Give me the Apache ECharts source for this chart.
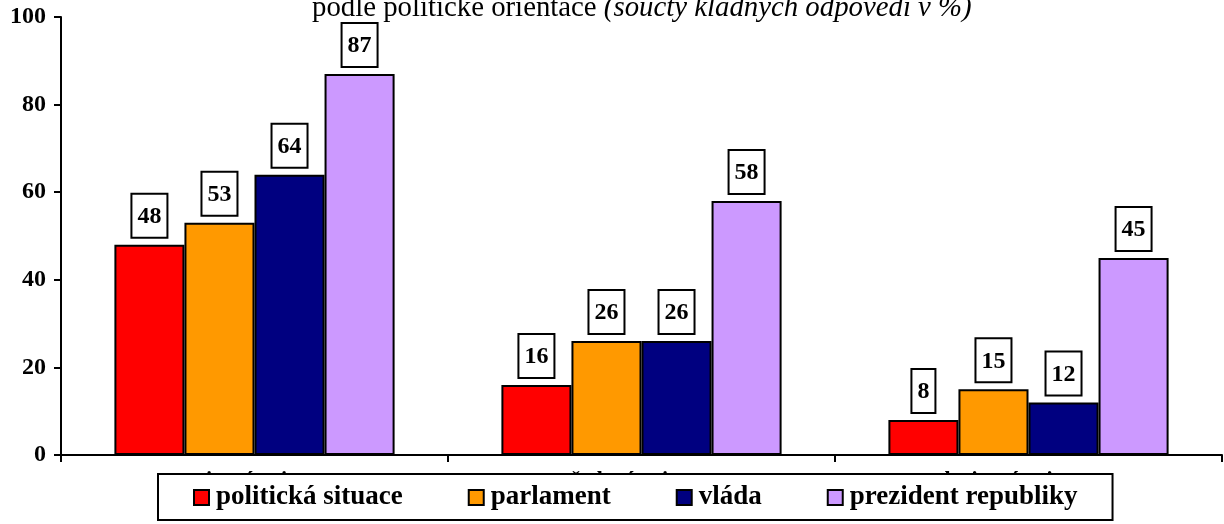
<!DOCTYPE html>
<html>
<head>
<meta charset="utf-8">
<script src="https://cdn.jsdelivr.net/npm/echarts@6/dist/echarts.min.js"></script>
<style>
  html, body { margin: 0; padding: 0; background: #fff; }
  #chart { width: 1224px; height: 524px; }
</style>
</head>
<body>
<div id="chart"></div>
<script>
// data
const categories = ["pravicová orientace", "středová orientace", "levicová orientace"];
const seriesNames = ["politická situace", "parlament", "vláda", "prezident republiky"];
const situace = [48, 16, 8];
const parlament = [53, 26, 15];
const vlada = [64, 26, 12];
const prezident = [87, 58, 45];
const yTicks = [0, 20, 40, 60, 80, 100];

const colors = ["#FF0000", "#FF9900", "#000080", "#CC99FF"];
const font = "'Liberation Serif', 'Times New Roman', serif";

const chart = echarts.init(document.getElementById("chart"));

function barSeries(name, data, color) {
  return {
    name: name,
    type: "bar",
    data: data,
    barGap: "0%",
    barCategoryGap: "27.6%",
    itemStyle: { color: color, borderColor: "#000", borderWidth: 2 },
    label: {
      show: true,
      position: "top",
      distance: 8,
      color: "#000",
      fontFamily: font,
      fontWeight: "bold",
      fontSize: 24,
      lineHeight: 24,
      backgroundColor: "#fff",
      borderColor: "#000",
      borderWidth: 2,
      padding: [10, 5, 8, 5],
    },
  };
}

chart.setOption({
  animation: false,
  textStyle: { fontFamily: font },
  title: {
    left: 307,
    top: -11,
    text: "{n|podle politické orientace }{i|(součty kladných odpovědí v %)}",
    textStyle: {
      fontWeight: "normal",
      rich: {
        n: { fontFamily: font, fontSize: 28.8, fontWeight: "normal", color: "#000" },
        i: { fontFamily: font, fontSize: 28.8, fontWeight: "normal", fontStyle: "italic", color: "#000" },
      },
    },
  },
  grid: { left: 61, right: 2, top: 17, bottom: 69 },
  xAxis: {
    type: "category",
    data: categories,
    axisLine: { lineStyle: { color: "#000", width: 2 } },
    axisTick: { show: true, length: 7, lineStyle: { color: "#000", width: 2 } },
    axisLabel: {
      color: "#000",
      fontFamily: font,
      fontWeight: "bold",
      fontSize: 22,
      margin: 14,
    },
  },
  yAxis: {
    type: "value",
    min: yTicks[0],
    max: yTicks[yTicks.length - 1],
    interval: 20,
    axisLine: { show: true, lineStyle: { color: "#000", width: 2 } },
    axisTick: { show: true, length: 7, lineStyle: { color: "#000", width: 2 } },
    splitLine: { show: false },
    axisLabel: {
      color: "#000",
      fontFamily: font,
      fontWeight: "bold",
      fontSize: 24,
      margin: 15,
    },
  },
  legend: {
    data: seriesNames,
    left: 158,
    top: 474,
    orient: "horizontal",
    icon: "rect",
    itemWidth: 15,
    itemHeight: 15,
    itemGap: 65,
    padding: [10, 35, 9, 35],
    backgroundColor: "#fff",
    borderColor: "#000",
    borderWidth: 2,
    borderRadius: 0,
    selectedMode: false,
    z: 10,
    itemStyle: { borderColor: "#000", borderWidth: 2 },
    textStyle: {
      color: "#000",
      fontFamily: font,
      fontWeight: "bold",
      fontSize: 27,
      padding: [2, 0, 0, 2],
    },
  },
  series: [
    barSeries(seriesNames[0], situace, colors[0]),
    barSeries(seriesNames[1], parlament, colors[1]),
    barSeries(seriesNames[2], vlada, colors[2]),
    barSeries(seriesNames[3], prezident, colors[3]),
  ],
});
</script>
</body>
</html>
